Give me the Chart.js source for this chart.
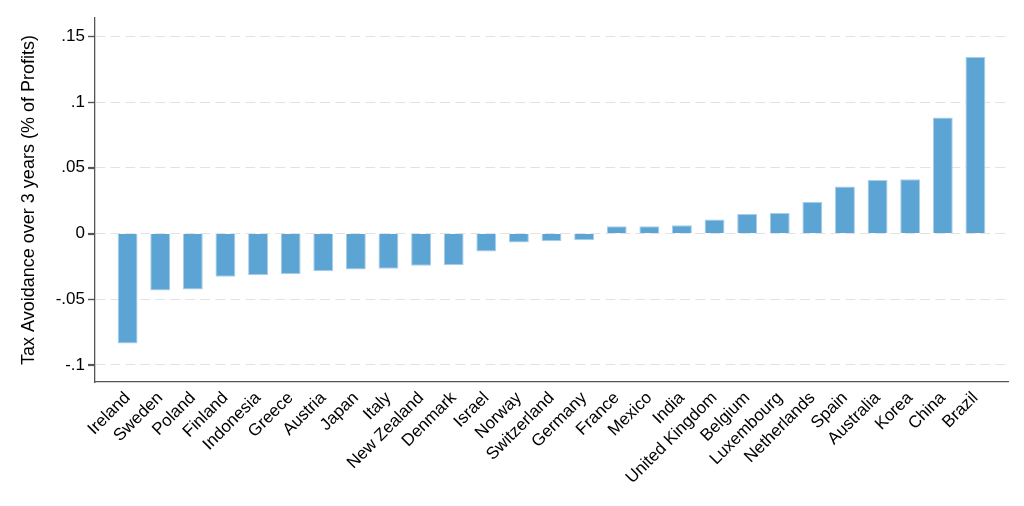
<!DOCTYPE html>
<html>
<head>
<meta charset="utf-8">
<script src="https://cdn.jsdelivr.net/npm/chart.js@4/dist/chart.umd.min.js"></script>
<style>
  html, body { margin: 0; padding: 0; background: #fff; }
  #wrap { width: 1024px; height: 506px; }
</style>
</head>
<body>
<div id="wrap"><canvas id="c" width="1024" height="506"></canvas></div>
<script>
const countries = ["Ireland","Sweden","Poland","Finland","Indonesia","Greece","Austria","Japan","Italy","New Zealand","Denmark","Israel","Norway","Switzerland","Germany","France","Mexico","India","United Kingdom","Belgium","Luxembourg","Netherlands","Spain","Australia","Korea","China","Brazil"];
const avoidance = [-0.0837,-0.0434,-0.0426,-0.0330,-0.0317,-0.0310,-0.0287,-0.0274,-0.0269,-0.0246,-0.0241,-0.0137,-0.0068,-0.0059,-0.0051,0.0056,0.0056,0.0063,0.0106,0.0148,0.0157,0.0240,0.0358,0.0408,0.0413,0.0883,0.1344];
const yTickValues = [-0.1,-0.05,0,0.05,0.1,0.15];
const yTickLabels = ["-.1","-.05","0",".05",".1",".15"];
const yTitle = "Tax Avoidance over 3 years (% of Profits)";

const FONT = "'Liberation Sans', Arial, Helvetica, sans-serif";

// draws the short outward tick marks on the y axis at the scale's tick positions
const yTickMarks = {
  id: 'yTickMarks',
  afterDraw(chart) {
    const s = chart.scales.y;
    const ctx = chart.ctx;
    ctx.save();
    ctx.strokeStyle = '#555';
    ctx.lineWidth = 1.2;
    ctx.setLineDash([]);
    s.ticks.forEach(t => {
      const py = Math.round(s.getPixelForValue(t.value)) + 0.5;
      ctx.beginPath();
      ctx.moveTo(s.right - 7, py);
      ctx.lineTo(s.right, py);
      ctx.stroke();
    });
    ctx.restore();
  }
};

new Chart(document.getElementById('c'), {
  type: 'bar',
  data: {
    datasets: [{
      data: avoidance.map((v, i) => ({ x: i, y: v })),
      backgroundColor: 'rgb(92,164,211)',
      borderColor: 'rgb(168,206,234)',
      borderWidth: 1,
      barPercentage: 0.61,
      categoryPercentage: 1
    }]
  },
  plugins: [yTickMarks],
  options: {
    responsive: false,
    animation: false,
    devicePixelRatio: 1,
    layout: { padding: { left: 0, right: 16, top: 18, bottom: 0 } },
    plugins: { legend: { display: false }, tooltip: { enabled: false } },
    scales: {
      x: {
        type: 'linear',
        offset: false,
        min: -1,
        max: 27,
        afterFit: s => { s.height = 124; },
        afterBuildTicks: s => { s.ticks = countries.map((c, i) => ({ value: i })); },
        grid: { display: false, drawTicks: false },
        border: { display: true, color: '#555', width: 1.3 },
        ticks: {
          autoSkip: false,
          minRotation: 45,
          maxRotation: 45,
          padding: 6,
          color: '#000',
          font: { family: FONT, size: 17 },
          callback: v => countries[v] ?? ''
        }
      },
      y: {
        min: -0.113,
        max: 0.164,
        afterFit: s => { s.width = 95; },
        afterBuildTicks: s => { s.ticks = yTickValues.map(v => ({ value: v })); },
        grid: {
          color: '#e2e2e2',
          lineWidth: 1,
          drawTicks: true,
          tickLength: 7,
          tickColor: '#555',
          tickWidth: 1.2,
          tickBorderDash: []
        },
        border: { display: true, color: '#555', width: 1.3, dash: [10, 5] },
        title: {
          display: true,
          text: yTitle,
          color: '#000',
          font: { family: FONT, size: 18 },
          padding: { top: 18, bottom: 0 }
        },
        ticks: {
          padding: 3,
          color: '#000',
          font: { family: FONT, size: 17 },
          callback: (v) => {
            const i = yTickValues.findIndex(t => Math.abs(t - v) < 1e-9);
            return i >= 0 ? yTickLabels[i] : '';
          }
        }
      }
    }
  }
});
</script>
</body>
</html>
